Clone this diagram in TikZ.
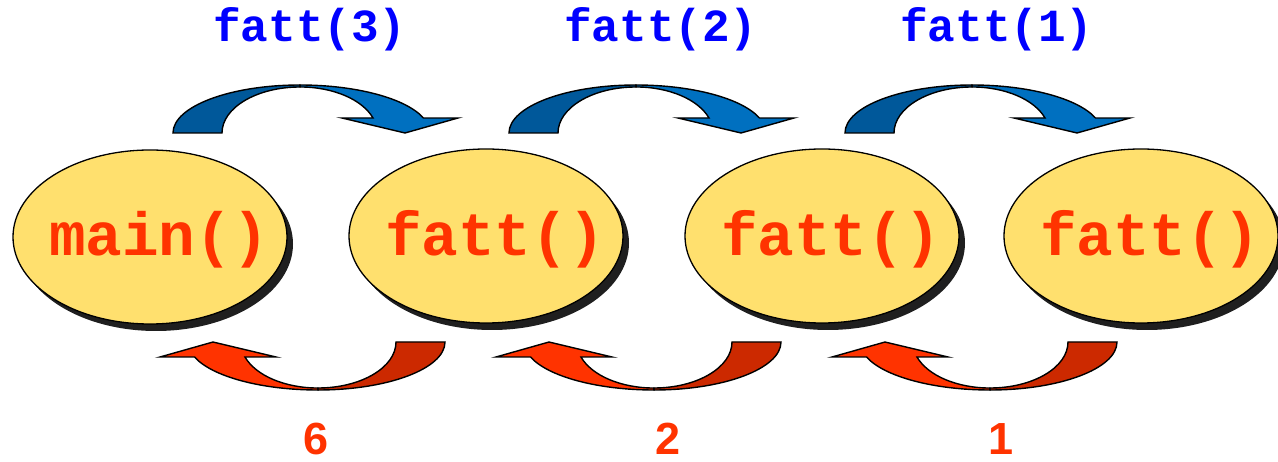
\documentclass[tikz,border=0pt]{standalone}
\usepackage{fontspec}
\usetikzlibrary{shapes.geometric,shadows}
\newfontfamily\courfont{Liberation Mono}
\newfontfamily\arialfont{Liberation Sans}
\definecolor{ellfill}{RGB}{255,224,110}
\definecolor{fnred}{RGB}{255,51,0}
\definecolor{callblue}{RGB}{0,0,255}
\definecolor{bluedark}{RGB}{0,88,154}
\definecolor{bluelight}{RGB}{0,112,192}
\definecolor{redlight}{RGB}{255,51,0}
\definecolor{reddark}{RGB}{204,41,0}
\newcommand\curvarrow[2]{%
  \filldraw[arrowline, fill=#1] (-127,0) arc[start angle=180,end angle=270,x radius=127,y radius=48]
     -- (0,-46) arc[start angle=270,end angle=180,x radius=78,y radius=46] -- cycle;
  \filldraw[arrowline, fill=#2] (0,-48) arc[start angle=270,end angle=341.8,x radius=130,y radius=48]
     -- (158,-15) -- (105,0) -- (42,-15) -- (73,-15)
     arc[start angle=341,end angle=270,x radius=77,y radius=46] -- cycle;
}
\tikzset{
  arrowline/.style={draw=black, line width=1.4pt, line join=miter},
  fn/.style={ellipse, draw=black, line width=1.3pt, fill=ellfill,
     minimum width=274pt, minimum height=174pt, inner sep=0pt,
     drop shadow={shadow xshift=6pt, shadow yshift=-7pt, fill=black!88, opacity=1}},
  fntext/.style={text=fnred, inner sep=0pt, xshift=9pt, yshift=-3pt,
     font=\courfont\bfseries\fontsize{61}{61}\selectfont},
  call/.style={text=callblue, inner sep=0pt, font=\courfont\bfseries\fontsize{46}{46}\selectfont},
  ret/.style={text=fnred, inner sep=0pt, font=\arialfont\bfseries\fontsize{45}{45}\selectfont}
}
\begin{document}
\begin{tikzpicture}[x=1pt,y=-1pt]
\useasboundingbox (0,0) rectangle (1278,462);
\fill[white] (0,0) rectangle (1278,462);
\node[fn, label={[fntext]center:main()}] (m) at (150,237) {};
\node[fn, label={[fntext]center:fatt()}] (f1) at (486,236) {};
\node[fn, label={[fntext]center:fatt()}] (f2) at (822,236) {};
\node[fn, label={[fntext]center:fatt()}] (f3) at (1141,236) {};
\foreach \k in {0,1,2}{
  \begin{scope}[shift={(300+336*\k,133)}]
    \curvarrow{bluedark}{bluelight}
  \end{scope}
  \begin{scope}[shift={(318+336*\k,342)}, rotate=180]
    \curvarrow{reddark}{redlight}
  \end{scope}
}
\node[call] (c3) at (310,29) {fatt(3)};
\node[call] (c2) at (661,29) {fatt(2)};
\node[call] (c1) at (997,29) {fatt(1)};
\node[ret] (r6) at (316,439) {6};
\node[ret] (r2) at (668,439) {2};
\node[ret] (r1) at (1001,439) {1};
\end{tikzpicture}
\end{document}
